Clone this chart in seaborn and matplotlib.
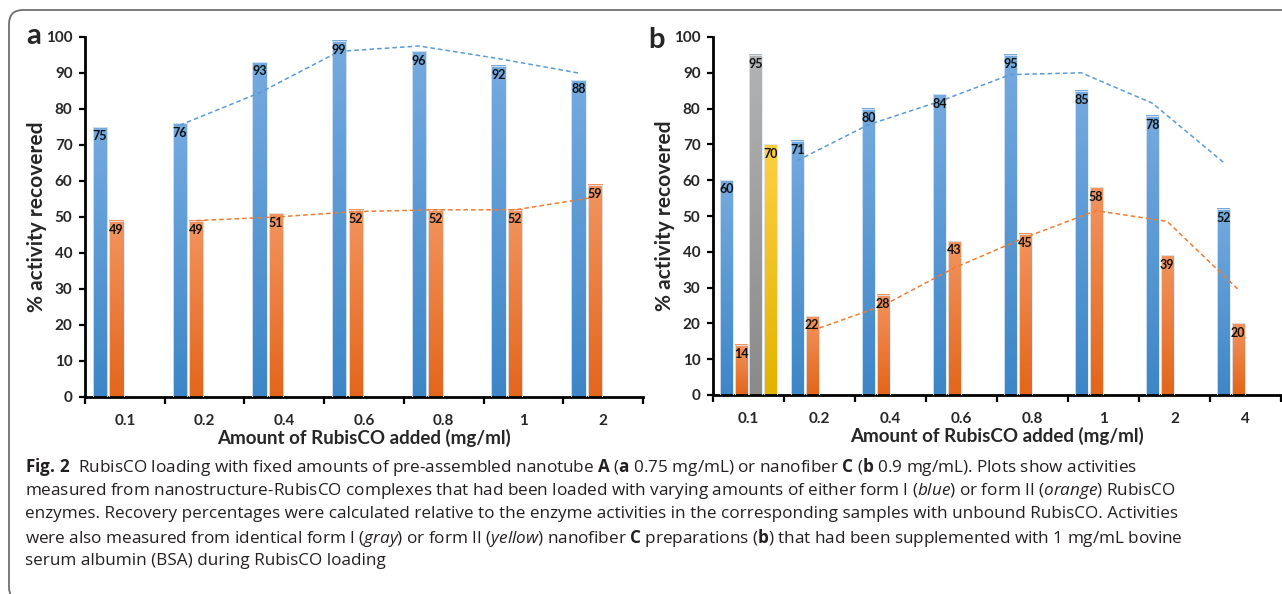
import numpy as np
import pandas as pd
import seaborn as sns
import matplotlib.pyplot as plt
import matplotlib.patches as mpatches
from matplotlib.colors import LinearSegmentedColormap, to_rgb

# panel a: nanotube A
conc_a = ["0.1", "0.2", "0.4", "0.6", "0.8", "1", "2"]
form1_a = [75, 76, 93, 99, 96, 92, 88]
form2_a = [49, 49, 51, 52, 52, 52, 59]

# panel b: nanofiber C
conc_b = ["0.1", "0.2", "0.4", "0.6", "0.8", "1", "2", "4"]
form1_b = [60, 71, 80, 84, 95, 85, 78, 52]
form2_b = [14, 22, 28, 43, 45, 58, 39, 20]
bsa_conc_b = ["0.1"]
bsa_form1_b = [95]
bsa_form2_b = [70]

series = ["form I", "form II", "form I + BSA", "form II + BSA"]
palette = {"form I": "#5b9bd5", "form II": "#ed7d31",
           "form I + BSA": "#a5a5a5", "form II + BSA": "#ffc000"}
# top -> bottom gradient of the bars
gradients = {"form I": ("#75aadf", "#3d86c7"), "form II": ("#f2945f", "#e3661b"),
             "form I + BSA": ("#b3b3b3", "#8a8a8a"), "form II + BSA": ("#ffcf45", "#e2b300")}

W, H = 1282, 594
sns.set_theme(style="ticks")
plt.rcParams["font.family"] = ["Lato", "DejaVu Sans"]
plt.rcParams["mathtext.fontset"] = "custom"
plt.rcParams["mathtext.rm"] = "Open Sans"
plt.rcParams["mathtext.bf"] = "Open Sans:bold"
plt.rcParams["mathtext.it"] = "Open Sans:italic"


def long_table(conc, parts):
    rows = []
    for name, cats, vals in parts:
        for c, v in zip(cats, vals):
            rows.append({"conc": c, "series": name, "value": v})
    df = pd.DataFrame(rows)
    df["conc"] = pd.Categorical(df["conc"], categories=conc, ordered=True)
    return df


def series_of(patch):
    fc = patch.get_facecolor()[:3]
    for s in series:
        if np.allclose(fc, to_rgb(palette[s]), atol=0.03):
            return s
    return None


def draw_panel(ax, conc, df, trends):
    sns.barplot(data=df, x="conc", y="value", hue="series", hue_order=series,
                order=conc, palette=palette, saturation=1, width=0.83, gap=0.13,
                edgecolor="#dfeaf5", linewidth=0.6, legend=False, ax=ax, errorbar=None)
    centers = {s: [] for s in series}
    for p in list(ax.patches):
        s = series_of(p)
        h = p.get_height()
        if s is None or not np.isfinite(h) or h <= 0:
            continue
        x0, w = p.get_x(), p.get_width()
        cmap = LinearSegmentedColormap.from_list(s, [gradients[s][1], gradients[s][0]])
        ax.imshow(np.linspace(0, 1, 128).reshape(-1, 1), extent=(x0, x0 + w, 0, h),
                  origin="lower", cmap=cmap, aspect="auto", zorder=2)
        p.set_facecolor("none")
        p.set_zorder(3)
        centers[s].append((x0 + w / 2, h))
        ax.text(x0 + w / 2, h - 0.9, f"{h:.0f}", ha="center", va="top",
                fontsize=9, fontweight="bold", color="#111111", zorder=5)
    # 2-period moving average trendlines
    for s, vals in trends:
        xs = sorted(c[0] for c in centers[s])
        ma = pd.Series(vals).rolling(2).mean()
        ax.plot(xs[1:], ma[1:], ls=(0, (3, 2)), lw=1.1, color=palette[s], zorder=4)

    n = len(conc)
    ax.set_xlim(-0.5, n - 0.5)
    ax.set_ylim(0, 100)
    ax.set_yticks(np.arange(0, 101, 10))
    ax.set_xticks(range(n))
    ax.set_xticklabels(conc)
    ax.set_xticks(np.arange(-0.5, n, 1), minor=True)
    ax.tick_params(axis="x", which="major", length=0, pad=12, labelsize=11)
    ax.tick_params(axis="x", which="minor", length=5, width=1.6, direction="out", color="black")
    ax.tick_params(axis="y", length=4, width=1.6, direction="out", pad=5, labelsize=11, color="black")
    for lab in ax.get_xticklabels() + ax.get_yticklabels():
        lab.set_fontweight("bold")
    sns.despine(ax=ax)
    for side in ("left", "bottom"):
        ax.spines[side].set_linewidth(2)
        ax.spines[side].set_color("black")
    ax.set_xlabel("Amount of RubisCO added (mg/ml)", fontsize=13.5, fontweight="bold", labelpad=1)
    ax.set_ylabel("% activity recovered", fontsize=15, fontweight="bold", labelpad=-1)


fig = plt.figure(figsize=(W / 100, H / 100), dpi=100)
ax_a = fig.add_axes([85 / W, 197 / H, 558 / W, 360 / H])
ax_b = fig.add_axes([713 / W, 199 / H, 568 / W, 358 / H])

df_a = long_table(conc_a, [("form I", conc_a, form1_a), ("form II", conc_a, form2_a)])
df_b = long_table(conc_b, [("form I", conc_b, form1_b), ("form II", conc_b, form2_b),
                           ("form I + BSA", bsa_conc_b, bsa_form1_b),
                           ("form II + BSA", bsa_conc_b, bsa_form2_b)])

draw_panel(ax_a, conc_a, df_a, [("form I", form1_a), ("form II", form2_a)])
draw_panel(ax_b, conc_b, df_b, [("form I", form1_b), ("form II", form2_b)])

fig.text(26 / W, 1 - 36 / H, "a", fontsize=21, fontweight="bold", va="center")
fig.text(648 / W, 1 - 40 / H, "b", fontsize=21, fontweight="bold", va="center")

# rounded frame around the figure (bottom and right edges run off the page)
frame = mpatches.FancyBboxPatch((0.09, -0.07), 13.5, 5.91,
                                boxstyle="round,pad=0,rounding_size=0.14",
                                transform=fig.dpi_scale_trans, fill=False,
                                edgecolor="#6e6e6e", lw=1.3)
fig.patches.append(frame)

caption = [
    r"$\mathbf{Fig.\,2}$  RubisCO loading with fixed amounts of pre-assembled nanotube $\mathbf{A}$ ($\mathbf{a}$ 0.75 mg/mL) or nanofiber $\mathbf{C}$ ($\mathbf{b}$ 0.9 mg/mL). Plots show activities",
    r"measured from nanostructure-RubisCO complexes that had been loaded with varying amounts of either form I ($\mathit{blue}$) or form II ($\mathit{orange}$) RubisCO",
    r"enzymes. Recovery percentages were calculated relative to the enzyme activities in the corresponding samples with unbound RubisCO. Activities",
    r"were also measured from identical form I ($\mathit{gray}$) or form II ($\mathit{yellow}$) nanofiber $\mathbf{C}$ preparations ($\mathbf{b}$) that had been supplemented with 1 mg/mL bovine",
    "serum albumin (BSA) during RubisCO loading",
]
for i, line in enumerate(caption):
    fig.text(25 / W, 1 - (467 + i * 23.6) / H, line, fontsize=12.3, family="Open Sans",
             color="#231f20", va="center")

fig.savefig("out.png", dpi=100)
